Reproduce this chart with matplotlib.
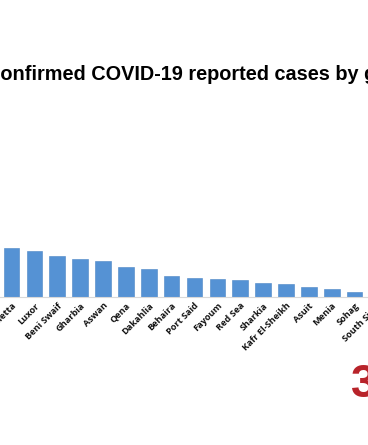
import matplotlib
matplotlib.use('Agg')
import matplotlib.pyplot as plt

governorates = ['Damietta', 'Luxor', 'Beni Swaif', 'Gharbia', 'Aswan', 'Qena', 'Dakahlia',
                'Behaira', 'Port Said', 'Fayoum', 'Red Sea', 'Sharkia', 'Kafr El-Sheikh',
                'Asuit', 'Menia', 'Sohag', 'South Sinai']
cases = [98, 92, 82, 76, 72, 60, 56, 42, 38, 36, 35, 28, 26, 20, 16, 10, 4]

title_text = 'Confirmed COVID-19 reported cases by governorate'

W, H = 368, 445
fig = plt.figure(figsize=(W / 100, H / 100), dpi=100)
fig.patch.set_facecolor('white')

# axes runs past the right edge, the source image is a crop
ax = fig.add_axes([0.0, 148 / H, 389 / W, 60 / H])
xs = list(range(len(governorates)))
ax.bar(xs, cases, width=0.68, color='#5592d4', edgecolor='#4a84c4', linewidth=0.4)
ax.set_xlim(-0.5, len(governorates) - 0.5)
ax.set_ylim(0, 120)
ax.set_xticks(xs)
ax.set_xticklabels(governorates, rotation=45, ha='right', rotation_mode='anchor',
                   fontsize=6.6, fontweight='bold', family='Open Sans', color='#111111')
ax.tick_params(axis='x', length=0, pad=3)
ax.set_yticks([])
for s in ['top', 'left', 'right']:
    ax.spines[s].set_visible(False)
ax.spines['bottom'].set_color('#d9d9d9')
ax.spines['bottom'].set_linewidth(0.8)
ax.set_facecolor('none')

fig.text(-14.3 / W, 1 - 74 / H, title_text, ha='left', va='center',
         fontsize=14.3, fontweight='bold', family='Liberation Sans', color='black')

fig.text(351 / W, 60 / H, '3', ha='left', va='center', fontsize=33,
         fontweight='bold', family='Liberation Sans', color='#b8232a')

fig.savefig('out.png', dpi=100, facecolor='white')
